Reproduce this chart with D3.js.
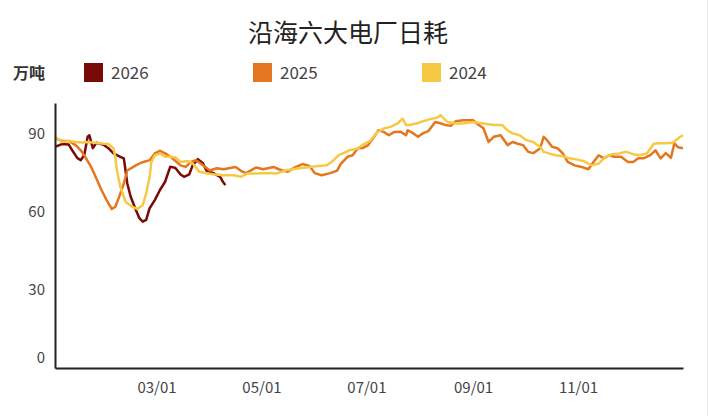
<!DOCTYPE html>
<html>
<head>
<meta charset="utf-8">
<script src="https://cdn.jsdelivr.net/npm/d3@7"></script>
<style>
  body { margin: 0; background: #fff; }
  text { font-family: "Noto Sans CJK SC", "Noto Sans", sans-serif; }
</style>
</head>
<body>
<div id="chart"></div>
<script>
// chart size
const width = 709;
const height = 416;

// x values are day-of-year (0 = Jan 1), y values in 万吨
const days2026 = [0, 4, 8, 10, 13, 15, 17, 19, 20, 22, 24, 28, 31, 34, 38, 40, 41, 42, 44, 47, 49, 51, 53, 55, 58, 61, 64, 67, 70, 73, 75, 78, 80, 83, 86, 88, 92, 96, 97, 99];
const vals2026 = [85.1, 86.2, 86, 83.8, 80.8, 80, 82, 89, 89.6, 84.6, 86.7, 86, 84.6, 82.6, 81.3, 80.7, 76, 71, 65.9, 60.8, 57.7, 56.3, 57, 61.5, 64.6, 68.5, 71.7, 77.5, 77, 74.5, 73.6, 74.5, 78, 80.4, 78.8, 76, 75, 73.6, 72.3, 70.4];

const days2025 = [0, 4, 8, 12, 15, 18, 21, 24, 27, 30, 33, 35, 37, 40, 42, 47, 50, 55, 58, 61, 64, 68, 73, 76, 79, 82, 86, 90, 94, 98, 101, 105, 108, 111, 117, 121, 127, 130, 135, 140, 144, 148, 151, 155, 160, 164, 166, 170, 173, 176, 179, 182, 185, 188, 191, 194, 197, 201, 204, 205, 208, 211, 214, 217, 221, 224, 227, 230, 233, 237, 243, 245, 249, 252, 255, 259, 263, 266, 269, 272, 275, 278, 282, 284, 286, 289, 292, 295, 298, 302, 306, 310, 313, 316, 319, 322, 325, 329, 333, 336, 339, 342, 346, 349, 352, 355, 358, 360, 362, 365];
const vals2025 = [88.5, 87.4, 87.4, 85.8, 83.8, 80.8, 77.4, 73, 68.5, 64.6, 61.2, 62, 65.4, 71, 76, 78, 79, 80, 82.6, 83.6, 82.6, 80.8, 78, 77.4, 79.3, 80, 78, 76, 76.9, 76.5, 76.9, 77.4, 75.9, 75, 77.2, 76.5, 77.4, 76.5, 75.5, 77.4, 78.5, 77.7, 75, 74.2, 75, 76, 78.5, 81.3, 81.9, 84.6, 84.7, 85.8, 88.5, 91.5, 90.9, 89.6, 90.8, 90.9, 89.6, 91.5, 90.4, 89, 90.4, 91.2, 94.7, 94.2, 93.5, 93.2, 95, 95.4, 95.4, 94.2, 92.3, 87, 89, 89.6, 85.8, 87, 86.3, 85.8, 83.2, 82.7, 84.6, 89, 87.7, 85.1, 84.6, 82.7, 79.3, 78, 77.4, 76.5, 79.3, 81.9, 80.7, 81.9, 81.3, 81.3, 79.3, 79.3, 80.7, 80.7, 81.9, 83.8, 80.7, 82.7, 80.9, 86.5, 85, 84.6];

const days2024 = [0, 4, 8, 12, 16, 19, 23, 27, 31, 34, 35, 36, 38, 41, 45, 48, 51, 53, 55, 56, 58, 61, 64, 67, 70, 73, 77, 80, 84, 88, 92, 98, 104, 108, 112, 117, 123, 129, 135, 141, 146, 152, 158, 162, 165, 168, 171, 176, 179, 183, 187, 191, 195, 199, 202, 204, 206, 210, 214, 218, 222, 224, 228, 233, 237, 243, 249, 255, 260, 263, 266, 270, 274, 278, 282, 284, 287, 291, 295, 299, 303, 307, 312, 316, 320, 324, 328, 332, 336, 340, 344, 348, 351, 355, 359, 363, 365];
const vals2024 = [89, 87, 87.4, 87, 86.8, 87, 86.7, 86.4, 86.2, 84.6, 81.3, 76, 69.7, 64, 62, 61.2, 62.7, 67.2, 73.6, 79.3, 81.9, 82.6, 81.3, 81.3, 81, 79.3, 79.7, 78.8, 75.5, 75, 74.6, 74.2, 74.2, 73.6, 74.9, 74.9, 75.1, 74.9, 76.2, 76.8, 77.2, 77.7, 78, 80, 81.9, 82.8, 83.8, 84.5, 86, 87.3, 90.6, 92.2, 92.8, 94.1, 96, 93.5, 93.5, 94.1, 95, 95.8, 96.3, 97.3, 94.7, 94.1, 94.1, 94.7, 94.1, 93.5, 93.5, 91.5, 90.3, 89.6, 87.7, 87, 85.1, 83.2, 82.6, 81.9, 81.5, 80.7, 80.3, 79.7, 78, 78.7, 81.3, 82.3, 82.6, 83.2, 82.3, 81.9, 82.6, 86.3, 86.5, 86.5, 86.7, 88.8, 89.6];

// x tick positions (day of year) and their labels
const tickDays = [59, 120, 181, 243, 304];
const tickLabels = ["03/01", "05/01", "07/01", "09/01", "11/01"];
const yTicks = [0, 30, 60, 90];

const seriesNames = ["2026", "2025", "2024"];
const seriesColors = ["#7a0a06", "#e4761f", "#f6c945"];
const seriesDays = [days2026, days2025, days2024];
const seriesVals = [vals2026, vals2025, vals2024];

const svg = d3.select("#chart")
    .append("svg")
    .attr("width", width)
    .attr("height", height);

// faint frame edge on the right
svg.append("line")
    .attr("x1", 707.5).attr("x2", 707.5)
    .attr("y1", 0).attr("y2", height)
    .attr("stroke", "#ececec");

// scales
const xScale = d3.scaleLinear().domain([0, 365]).range([55, 683]);
const yScale = d3.scaleLinear().domain([0, 102]).range([368, 103]);

// title
svg.append("text")
    .attr("x", 348)
    .attr("y", 42)
    .attr("text-anchor", "middle")
    .attr("font-size", 25)
    .attr("fill", "#222")
    .text("沿海六大电厂日耗");

// unit label
svg.append("text")
    .attr("x", 13)
    .attr("y", 79)
    .attr("font-size", 16)
    .attr("font-weight", "bold")
    .attr("fill", "#333")
    .text("万吨");

// legend
const legendX = [84, 253, 422];
const legend = svg.selectAll(".legend")
    .data(seriesNames)
    .enter()
    .append("g")
    .attr("class", "legend")
    .attr("transform", (d, i) => `translate(${legendX[i]}, 63)`);

legend.append("rect")
    .attr("width", 19)
    .attr("height", 19)
    .attr("fill", (d, i) => seriesColors[i]);

legend.append("text")
    .attr("x", 27)
    .attr("y", 16)
    .attr("font-size", 17)
    .attr("fill", "#444")
    .text(d => d);

// lines
const line = d3.line()
    .x(d => xScale(d[0]))
    .y(d => yScale(d[1]));

seriesNames.forEach((name, i) => {
    const pts = seriesDays[i].map((day, j) => [day, seriesVals[i][j]]);
    svg.append("path")
        .datum(pts)
        .attr("fill", "none")
        .attr("stroke", seriesColors[i])
        .attr("stroke-width", 2.5)
        .attr("stroke-linejoin", "round")
        .attr("d", line);
});

// x axis
const xAxis = svg.append("g")
    .attr("transform", "translate(0, 368)")
    .call(d3.axisBottom(xScale).tickValues(tickDays).tickSize(0).tickPadding(14)
        .tickFormat((d, i) => tickLabels[i]));
xAxis.select(".domain").attr("stroke", "#222").attr("stroke-width", 2);
xAxis.selectAll("text").attr("font-size", 15).attr("fill", "#444");

// y axis
const yAxis = svg.append("g")
    .attr("transform", "translate(55, 0)")
    .call(d3.axisLeft(yScale).tickValues(yTicks).tickSize(0).tickPadding(10));
yAxis.select(".domain").attr("stroke", "#222").attr("stroke-width", 2);
yAxis.selectAll("text").attr("font-size", 15).attr("fill", "#444")
    .attr("dy", d => d === 0 ? "-0.35em" : "0.32em");
</script>
</body>
</html>
